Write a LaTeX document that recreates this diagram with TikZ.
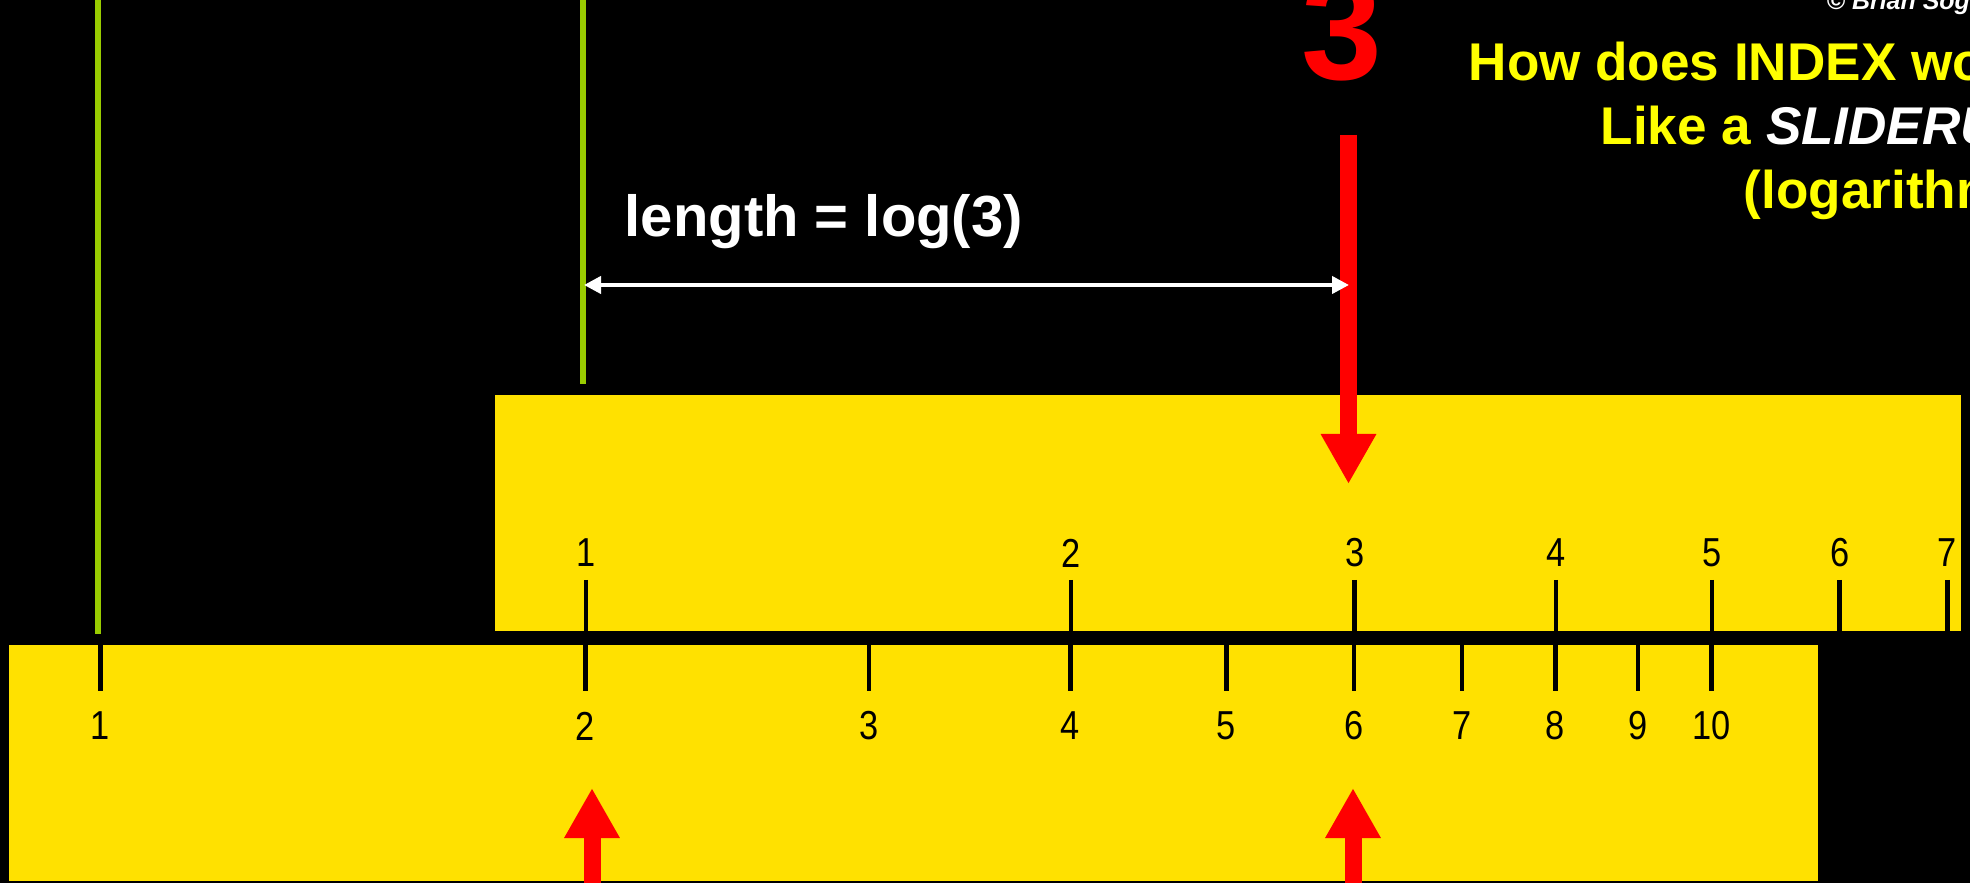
\documentclass[tikz,border=0pt]{standalone}
\usepackage{fontspec}
\setmainfont{Liberation Sans}
\usetikzlibrary{positioning}
\usetikzlibrary{arrows.meta}

\definecolor{ruleyellow}{RGB}{255,225,0}
\definecolor{titleyellow}{RGB}{255,255,0}
\definecolor{markgreen}{RGB}{153,204,0}

\begin{document}
\begin{tikzpicture}[
        x = 0.01cm, y = -0.01cm, % one unit = one pixel, y going down
        redarrow/.style = {red, line width=0.17cm, -{Triangle[length=0.5cm,width=0.52cm]}},
        lenarrow/.style = {white, line width=0.04cm,
            {Triangle[length=0.17cm,width=0.17cm]}-{Triangle[length=0.17cm,width=0.17cm]}},
        greenline/.style = {markgreen, line width=0.055cm},
        scaletick/.style = {black, line width=0.045cm},
        digit/.style = {black, inner sep=0, font=\fontsize{11.5}{13}\selectfont},
        title/.style = {titleyellow, anchor=base west, inner sep=0,
            font=\bfseries\fontsize{15.1}{18}\selectfont}
        ]

  \useasboundingbox (0,0) rectangle (1970,883);
  \clip (0,0) rectangle (1970,883);
  \fill[black] (0,0) rectangle (1970,883);

  % the two rules
  \fill[ruleyellow] (9,645) rectangle (1818,881);
  \fill[ruleyellow] (495,395) rectangle (1961,631);

  % fixed scale, 1..10
  \foreach \n in {1,...,10} {
    \pgfmathsetmacro\xpos{100.5+1611*log10(\n)}
    \node[digit] (lo\n) at (\xpos,726) {\scalebox{0.85}[1]{\n}};
    \draw[scaletick] (\xpos,643) -- (\xpos,691);
  }

  % sliding scale, shifted by log(2)
  \begin{scope}
    \clip (495,395) rectangle (1961,633);
    \foreach \n in {1,...,7} {
      \pgfmathsetmacro\xpos{586+1611*log10(\n)}
      \node[digit] (up\n) at (\xpos,553) {\scalebox{0.85}[1]{\n}};
      \draw[scaletick] (\xpos,580) -- (\xpos,633);
    }
  \end{scope}

  \coordinate (g1top) at (98,0);
  \coordinate (g1bot) at (98,634);
  \coordinate (g2top) at (583,0);
  \coordinate (g2bot) at (583,384);
  \draw[greenline] (g1top) -- (g1bot);
  \draw[greenline] (g2top) -- (g2bot);

  \coordinate (dtail) at (1348.5,135);
  \coordinate (dtip) at (1348.5,484);
  \coordinate (u1tail) at (592,890);
  \coordinate (u1tip) at (592,788);
  \coordinate (u2tail) at (1353,890);
  \coordinate (u2tip) at (1353,788);
  \draw[redarrow] (dtail) -- (dtip);
  \draw[redarrow] (u1tail) -- (u1tip);
  \draw[redarrow] (u2tail) -- (u2tip);

  \coordinate (lenL) at (584,285);
  \coordinate (lenR) at (1349,285);
  \draw[lenarrow] (lenL) -- (lenR);

  \node[white, anchor=base west, inner sep=0, font=\bfseries\fontsize{16.5}{18}\selectfont]
    (lenlabel) at (624,237) {length = log(3)};
  \node[red, anchor=base, inner sep=0, font=\bfseries\fontsize{41.3}{44}\selectfont]
    (three) at (1342,80) {3};

  % title, runs off the right edge
  \node[title] (line1) at (1468,81) {How does INDEX work?};
  \node[title] (line2) at (1600,145) {Like a \textcolor{white}{\itshape SLIDERULE}?};
  \node[title] (line3) at (1743,209) {(logarithmic)};
  \node[white, anchor=base west, inner sep=0, font=\bfseries\itshape\fontsize{7.1}{8}\selectfont]
    (copy) at (1826,10) {© Brian Sogn};

\end{tikzpicture}
\end{document}
